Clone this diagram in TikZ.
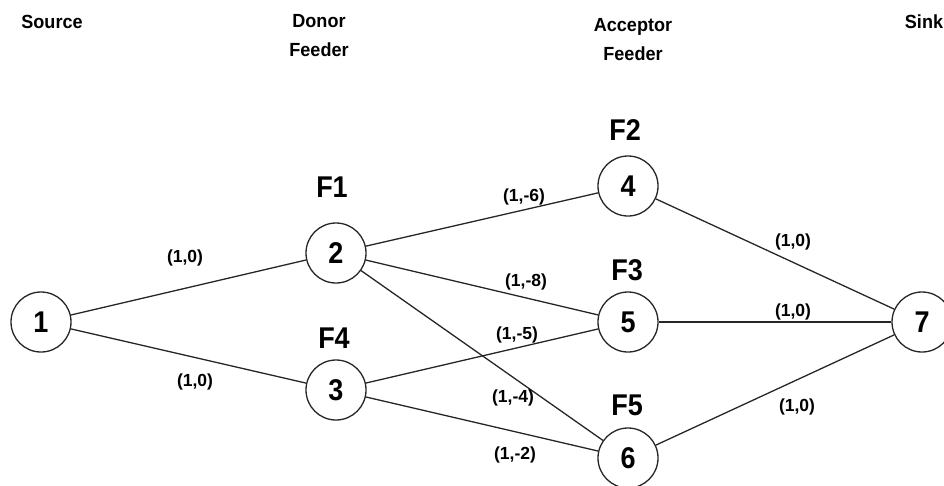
\documentclass[tikz,border=0pt]{standalone}
\usepackage{fontspec}
\setmainfont{Liberation Sans}
\newfontfamily\bigbold[FakeStretch=0.9]{Liberation Sans Bold}
\newfontfamily\headbold[FakeStretch=0.95]{Liberation Sans Bold}
\newfontfamily\lblbold{Liberation Sans Bold}
\begin{document}
\begin{tikzpicture}[x=1pt,y=-1pt,
  vertex/.style={circle,draw=black!85,line width=1.3pt,minimum size=60pt,inner sep=0pt,
    font=\bigbold\fontsize{30}{36}\selectfont},
  feedername/.style={font=\bigbold\fontsize{30}{36}\selectfont,inner sep=0pt},
  header/.style={font=\headbold\fontsize{19}{29}\selectfont,align=center,inner sep=0pt},
  weight/.style={font=\lblbold\fontsize{17.5}{20}\selectfont,inner sep=0pt},
  link/.style={draw=black!85,line width=1.3pt}]
\useasboundingbox (0,0) rectangle (944,485);

% column headings
\node[header] (hsrc) at (52,22) {Source};
\node[header] (hdon) at (319,36) {Donor\\Feeder};
\node[header] (hacc) at (633,40) {Acceptor\\Feeder};
\node[header] (hsnk) at (924,22) {Sink};

% vertices
\node[vertex] (n1) at (41,322) {1};
\node[vertex] (n2) at (336,253) {2};
\node[vertex] (n3) at (336,390) {3};
\node[vertex] (n4) at (628,186) {4};
\node[vertex] (n5) at (628,322) {5};
\node[vertex] (n6) at (628,458) {6};
\node[vertex] (n7) at (922,322) {7};

% feeder names
\node[feedername] (f1) at (332,187) {F1};
\node[feedername] (f4) at (334,338) {F4};
\node[feedername] (f2) at (625,130) {F2};
\node[feedername] (f3) at (627,270) {F3};
\node[feedername] (f5) at (627,405) {F5};

% links
\draw[link] (n1) -- (n2);
\draw[link] (n1) -- (n3);
\draw[link] (n2) -- (n4);
\draw[link] (n2) -- (n5);
\draw[link] (n2) -- (n6);
\draw[link] (n3) -- (n5);
\draw[link] (n3) -- (n6);
\draw[link] (n4) -- (n7);
\draw[link] (n5) -- (n7);
\draw[link] (n6) -- (n7);

% link weights
\node[weight] (w12) at (185,258) {(1,0)};
\node[weight] (w13) at (195,382) {(1,0)};
\node[weight] (w24) at (524,197) {(1,-6)};
\node[weight] (w25) at (526,282) {(1,-8)};
\node[weight] (w35) at (517,335) {(1,-5)};
\node[weight] (w26) at (513,398) {(1,-4)};
\node[weight] (w36) at (515,455) {(1,-2)};
\node[weight] (w47) at (793,242) {(1,0)};
\node[weight] (w57) at (793,312) {(1,0)};
\node[weight] (w67) at (797,407) {(1,0)};
\end{tikzpicture}
\end{document}
